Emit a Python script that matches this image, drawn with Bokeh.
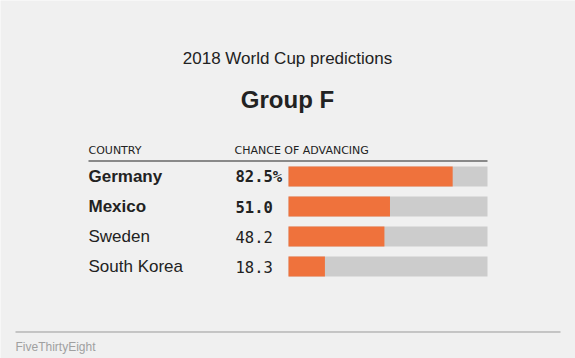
from bokeh.plotting import figure
from bokeh.models import ColumnDataSource, Range1d
from bokeh.core.properties import value, field
from bokeh.embed import file_html
from bokeh.resources import INLINE

# ---- data ----
title = "2018 World Cup predictions"
subtitle = "Group F"
col_country = "COUNTRY"
col_chance = "CHANCE OF ADVANCING"
countries = ["Germany", "Mexico", "Sweden", "South Korea"]
chance = [82.5, 51.0, 48.2, 18.3]
advancing = [True, True, False, False]
max_chance = 100
credit = "FiveThirtyEight"

# ---- layout helpers (pixel geometry) ----
W, H = 575, 358
BAR_X0 = 288.0          # px where 0% sits
PX_PER_UNIT = 1.99      # px per percentage point
ROW0 = 176.0            # px of first row centre
ROW_H = 30.0            # px per row

def dx(px):
    return (px - BAR_X0) / PX_PER_UNIT

def dy(px):
    return (px - ROW0) / ROW_H

p = figure(width=W, height=H, output_backend="svg", toolbar_location=None,
           x_range=Range1d(dx(0), dx(W)), y_range=Range1d(dy(H), dy(0)),
           min_border=0, outline_line_color=None,
           background_fill_color="#f0f0f0", border_fill_color="#f0f0f0")
p.axis.visible = False
p.grid.visible = False

rows = list(range(len(countries)))
src = ColumnDataSource(dict(
    y=rows,
    country=countries,
    chance=chance,
    full=[max_chance] * len(countries),
    label=[f"{v:.1f}%" if i == 0 else f"{v:.1f}" for i, v in enumerate(chance)],
    style=["bold" if a else "normal" for a in advancing],
))

bar_h = 20 / ROW_H
p.hbar(y="y", left=0, right="full", height=bar_h, source=src,
       fill_color="#cccccc", line_color=None)
p.hbar(y="y", left=0, right="chance", height=bar_h, source=src,
       fill_color="#ef723c", line_color=None)

p.text(x=dx(88), y="y", text="country", source=src,
       text_font=value("Liberation Sans"), text_font_size="17px",
       text_font_style=field("style"), text_color="#222222",
       text_baseline="middle", text_align="left")
p.text(x=dx(235), y="y", text="label", source=src,
       text_font=value("DejaVu Sans Mono"), text_font_size="15.5px",
       text_font_style=field("style"), text_color="#222222",
       text_baseline="middle", text_align="left")

# titles
p.text(x=[dx(287)], y=[dy(58)], text=[title],
       text_font=value("Liberation Sans"), text_font_size="17px",
       text_color="#222222", text_align="center", text_baseline="middle")
p.text(x=[dx(287)], y=[dy(99)], text=[subtitle],
       text_font=value("Liberation Sans"), text_font_size="24px",
       text_font_style="bold", text_color="#222222",
       text_align="center", text_baseline="middle")

# column headers
p.text(x=[dx(88)], y=[dy(150)], text=[col_country],
       text_font=value("DejaVu Sans"), text_font_size="11px",
       text_color="#222222", text_align="left", text_baseline="middle")
p.text(x=[dx(234)], y=[dy(150)], text=[col_chance],
       text_font=value("DejaVu Sans"), text_font_size="11px",
       text_color="#222222", text_align="left", text_baseline="middle")

# rules
p.segment(x0=[dx(88)], y0=[dy(160.5)], x1=[dx(487)], y1=[dy(160.5)],
          line_color="#222222", line_width=1)
p.segment(x0=[dx(15)], y0=[dy(331.5)], x1=[dx(560)], y1=[dy(331.5)],
          line_color="#999999", line_width=1)

# credit
p.text(x=[dx(15)], y=[dy(346)], text=[credit],
       text_font=value("Liberation Sans"), text_font_size="12px",
       text_color="#a0a0a0", text_align="left", text_baseline="middle")

open("out.html", "w").write(file_html(p, INLINE))
